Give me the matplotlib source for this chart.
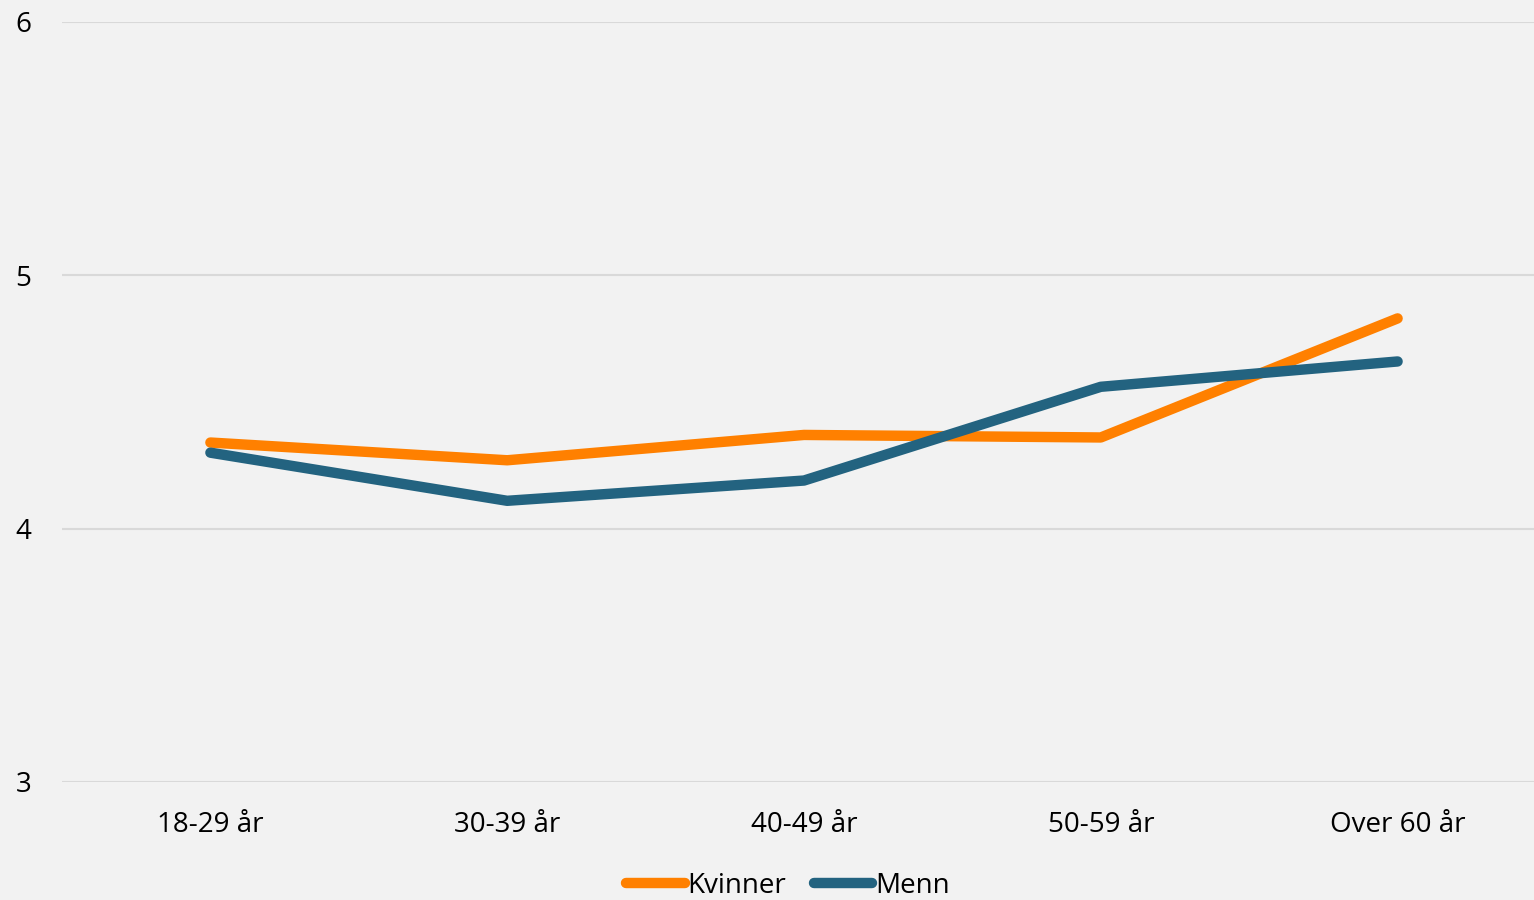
import matplotlib
matplotlib.use("Agg")
import matplotlib.pyplot as plt

categories = ["18-29 år", "30-39 år", "40-49 år", "50-59 år", "Over 60 år"]
kvinner = [4.34, 4.27, 4.37, 4.36, 4.83]
menn = [4.30, 4.11, 4.19, 4.56, 4.66]
yticks = [3, 4, 5, 6]

plt.rcParams['font.family'] = ['Open Sans', 'DejaVu Sans']

W, H = 1534, 900
fig = plt.figure(figsize=(W / 100, H / 100), dpi=100, facecolor='#F2F2F2')
# axes extends a bit past the right edge, as in the reference
ax = fig.add_axes([62 / W, 1 - 782 / H, 1484 / W, 760 / H])
ax.set_facecolor('#F2F2F2')

x = range(len(categories))
ax.plot(x, kvinner, color='#FF8000', lw=7.5, solid_capstyle='round',
        solid_joinstyle='round', label='Kvinner', zorder=3)
ax.plot(x, menn, color='#236380', lw=7.5, solid_capstyle='round',
        solid_joinstyle='round', label='Menn', zorder=3)

ax.set_xlim(-0.5, 4.5)
ax.set_ylim(3, 6)
ax.set_yticks(yticks)
ax.set_xticks(list(x))
ax.set_xticklabels(categories)
ax.grid(axis='y', color='#D9D9D9', lw=1.5)
ax.set_axisbelow(True)
for s in ax.spines.values():
    s.set_visible(False)
ax.tick_params(length=0, labelsize=20, colors='black')
ax.tick_params(axis='y', pad=22)
ax.tick_params(axis='x', pad=21)

fig.legend(loc='center', bbox_to_anchor=(788 / W, 1 - 886 / H), ncol=2,
           frameon=False, fontsize=20, handlelength=2.1, handletextpad=0.1,
           columnspacing=1.0)

fig.savefig('out.png', dpi=100, facecolor=fig.get_facecolor())
